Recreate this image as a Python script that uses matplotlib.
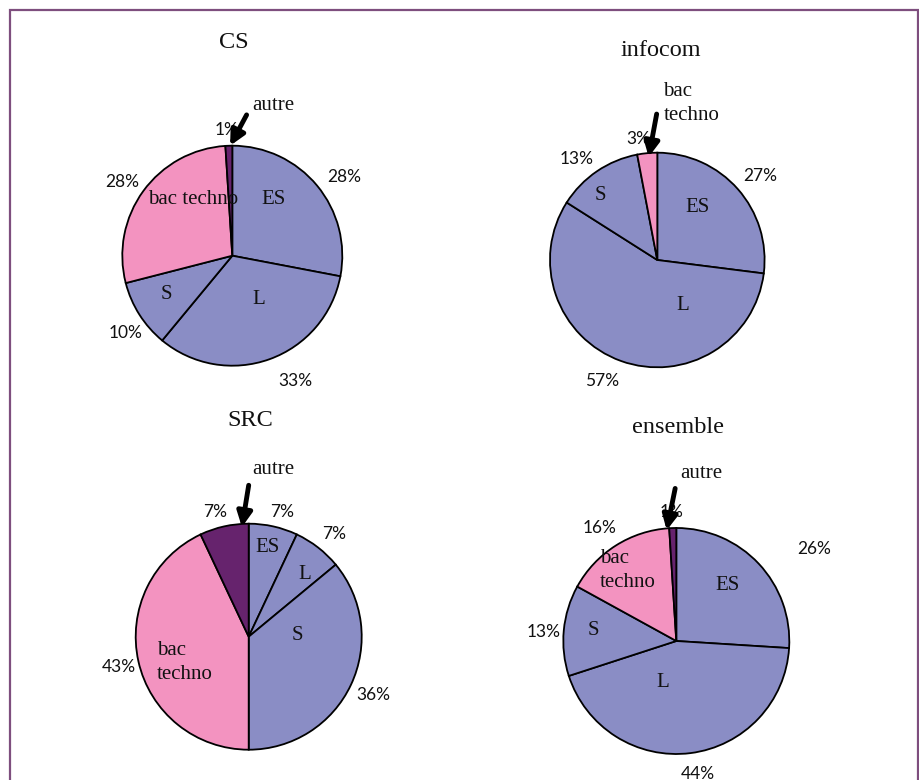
import matplotlib
matplotlib.use("Agg")
import matplotlib.pyplot as plt
from matplotlib.patches import Rectangle

# Baccalaureate origin of students, per programme
categories = ["ES", "L", "S", "bac techno", "autre"]
programmes = ["CS", "infocom", "SRC", "ensemble"]
cs_values = [28, 33, 10, 28, 1]
infocom_values = [27, 57, 13, 3, 0]
src_values = [7, 7, 36, 43, 7]
ensemble_values = [26, 44, 13, 16, 1]

colors = {
    "ES": "#8A8DC5",
    "L": "#8A8DC5",
    "S": "#8A8DC5",
    "bac techno": "#F393C0",
    "autre": "#66236D",
}

W, H = 920, 780
SERIF = "Liberation Serif"
SANS = "Lato"

# layout of each pie: centre (px from top-left), radius (px), title position
pie_layout = {
    "CS": dict(c=(232.3, 255.7), r=110, title=(234, 43)),
    "infocom": dict(c=(657.3, 260.0), r=107.3, title=(661, 50)),
    "SRC": dict(c=(248.7, 636.7), r=113, title=(250, 421)),
    "ensemble": dict(c=(676.3, 641.0), r=113, title=(678, 427)),
}

# label placement in pie-radius units: (percent label xy, category label xy, category text, halign)
label_pos = {
    "CS": {
        "ES": ((1.02, 0.72), (0.37, 0.51), "ES", "center"),
        "L": ((0.57, -1.14), (0.24, -0.40), "L", "center"),
        "S": ((-0.97, -0.70), (-0.60, -0.35), "S", "center"),
        "bac techno": ((-1.00, 0.67), (-0.36, 0.51), "bac techno", "center"),
        "autre": ((-0.05, 1.14), (0.37, 1.37), "autre", "center"),
    },
    "infocom": {
        "ES": ((0.96, 0.78), (0.37, 0.49), "ES", "center"),
        "L": ((-0.51, -1.13), (0.24, -0.42), "L", "center"),
        "S": ((-0.75, 0.94), (-0.53, 0.60), "S", "center"),
        "bac techno": ((-0.18, 1.13), (0.056, 1.46), "bac\ntechno", "left"),
    },
    "SRC": {
        "ES": ((0.30, 1.10), (0.17, 0.79), "ES", "center"),
        "L": ((0.755, 0.91), (0.50, 0.55), "L", "center"),
        "S": ((1.10, -0.52), (0.43, 0.015), "S", "center"),
        "bac techno": ((-1.15, -0.27), (-0.81, -0.225), "bac\ntechno", "left"),
        "autre": ((-0.30, 1.10), (0.22, 1.48), "autre", "center"),
    },
    "ensemble": {
        "ES": ((1.22, 0.81), (0.45, 0.49), "ES", "center"),
        "L": ((0.195, -1.18), (-0.12, -0.37), "L", "center"),
        "S": ((-1.17, 0.08), (-0.73, 0.09), "S", "center"),
        "bac techno": ((-0.68, 1.00), (-0.675, 0.625), "bac\ntechno", "left"),
        "autre": ((-0.04, 1.14), (0.22, 1.48), "autre", "center"),
    },
}

# pointer arrows for thin slices: (tail, head) in pie-radius units
arrows = {
    "CS": ((0.13, 1.28), (-0.02, 1.00)),
    "infocom": ((-0.006, 1.36), (-0.08, 0.96)),
    "SRC": ((0.0, 1.34), (-0.06, 0.97)),
    "ensemble": ((-0.01, 1.35), (-0.085, 0.98)),
}

data = {
    "CS": cs_values,
    "infocom": infocom_values,
    "SRC": src_values,
    "ensemble": ensemble_values,
}

fig = plt.figure(figsize=(W / 100, H / 100), dpi=100)
fig.patch.set_facecolor("white")

# frame around the chart area
fig.add_artist(Rectangle((10 / W, -0.05), 908 / W, (H - 10) / H + 0.05,
                         transform=fig.transFigure, fill=False,
                         edgecolor="#7E4E7E", linewidth=1.6))

for name in programmes:
    lay = pie_layout[name]
    (cx, cy), r = lay["c"], lay["r"]
    ax = fig.add_axes([(cx - r) / W, (H - cy - r) / H, 2 * r / W, 2 * r / H])
    vals = data[name]
    cats = [c for c, v in zip(categories, vals) if v > 0]
    sizes = [v for v in vals if v > 0]
    ax.pie(sizes, colors=[colors[c] for c in cats], startangle=90,
           counterclock=False, radius=1,
           wedgeprops=dict(edgecolor="black", linewidth=1.3))
    ax.set_xlim(-1, 1)
    ax.set_ylim(-1, 1)
    ax.set_aspect("equal")
    ax.axis("off")

    for c, v in zip(cats, sizes):
        (px, py), (lx, ly), text, ha = label_pos[name][c]
        ax.text(px, py, f"{v}%", ha="center", va="center",
                fontsize=12.5, family=SANS, color="#111111")
        ax.text(lx, ly, text, ha=ha, va="center", fontsize=15,
                family=SERIF, color="#111111", linespacing=1.35)

    tail, head = arrows[name]
    ax.annotate("", xy=head, xytext=tail,
                arrowprops=dict(arrowstyle="-|>", color="black", lw=3.5,
                                mutation_scale=22, shrinkA=0, shrinkB=0))

    tx, ty = lay["title"]
    fig.text(tx / W, 1 - ty / H, name, ha="center", va="center",
             fontsize=17.5, family=SERIF, color="#111111")

fig.savefig("out.png", dpi=100, facecolor="white")
